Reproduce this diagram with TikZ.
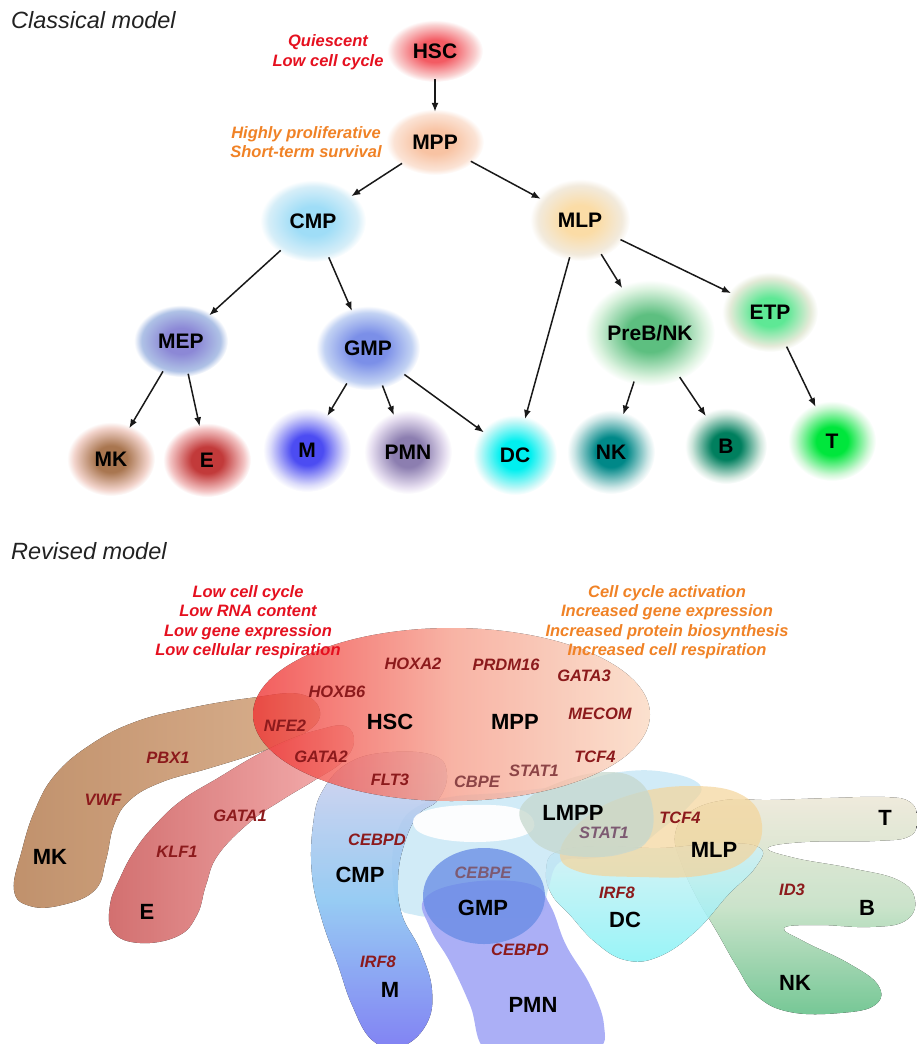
\documentclass[tikz,border=0pt]{standalone}
\usepackage{tikz}
\usepackage{fontspec}
\setmainfont{Liberation Sans}
\usetikzlibrary{arrows.meta,shapes.geometric}
\colorlet{fzin}{white}
\colorlet{fzout}{white}
\pgfdeclareradialshading[fzin,fzout]{fuzzy}{\pgfpoint{0bp}{0bp}}{color(0bp)=(fzin); color(9bp)=(fzin); color(21bp)=(fzout); color(25bp)=(white); color(50bp)=(white)}
\definecolor{txtred}{HTML}{E5101F}
\definecolor{txtorange}{HTML}{F08226}
\definecolor{gene}{HTML}{8C1A1C}
\definecolor{genemid}{HTML}{8C4446}
\definecolor{genel}{HTML}{7D5A72}
\definecolor{titlegray}{HTML}{222222}
\definecolor{mkA}{HTML}{BD8B64}
\definecolor{mkB}{HTML}{D8AC88}
\definecolor{eA}{HTML}{CD6060}
\definecolor{eB}{HTML}{F5A8A8}
\definecolor{tbA}{HTML}{EEE9DA}
\definecolor{tbB}{HTML}{6EC490}
\definecolor{tbM}{HTML}{C8E2C8}
\definecolor{dcA}{HTML}{D2F0F5}
\definecolor{dcB}{HTML}{86F2F6}
\definecolor{band}{HTML}{BEE2F4}
\definecolor{cmpA}{HTML}{D4D0EC}
\definecolor{cmpB}{HTML}{7474F2}
\definecolor{cmpM}{HTML}{8CC6F2}
\definecolor{pmnC}{HTML}{A6ABF6}
\definecolor{gmpC}{HTML}{668BE4}
\definecolor{mlpC}{HTML}{F4D49A}
\definecolor{lmppC}{HTML}{C6D8CE}
\definecolor{elA}{HTML}{EF3434}
\definecolor{elB}{HTML}{FAD9C2}
\definecolor{elM}{HTML}{F6A08E}
\newcommand\cnodefont{\fontsize{21}{24}\selectfont\bfseries}
\newcommand\rnodefont{\fontsize{22}{25}\selectfont\bfseries}
\newcommand\genefont{\fontsize{16.5}{19.5}\selectfont\bfseries\itshape}
\tikzset{
  fz/.style 2 args={/utils/exec={\definecolor{fzin}{HTML}{#1}\definecolor{fzout}{HTML}{#2}}, shading=fuzzy},
  cnode/.style={shape=ellipse, inner sep=0pt, font=\cnodefont, text=black},
  arr/.style={-{Latex[length=9pt,width=7pt]}, line width=1.5pt, draw=black!90, shorten <=-3pt, shorten >=-3pt},
  rlabel/.style={font=\rnodefont, text=black, inner sep=0pt},
  genelab/.style={font=\genefont, text=gene, inner sep=0pt},
  note/.style={font=\genefont, align=center, inner sep=0pt},
  blob/.style={smooth cycle, tension=0.7},
}
\begin{document}
\begin{tikzpicture}[x=1pt,y=-1pt]
\useasboundingbox (0,0) rectangle (917,1044);

% ---------------- Classical model ----------------
\node[anchor=base west, font=\fontsize{23.5}{26}\selectfont\itshape, text=titlegray, inner sep=0pt] (title1) at (11,28) {Classical model};

\node[cnode, fz={F35B63}{F9CFCF}, minimum width=96pt, minimum height=62pt] (hsc) at (435,51) {HSC};
\node[cnode, fz={F8C3A3}{FBE3D5}, minimum width=98pt, minimum height=66pt] (mpp) at (435,142) {MPP};
\node[cnode, fz={9FDDF7}{D6EEF8}, minimum width=106pt, minimum height=82pt] (cmp) at (313,221) {CMP};
\node[cnode, fz={FBDCA6}{F2EADC}, minimum width=100pt, minimum height=82pt] (mlp) at (580,220) {MLP};
\node[cnode, fz={8C88D6}{AFC2E6}, minimum width=94pt, minimum height=72pt] (mep) at (181,341) {MEP};
\node[cnode, fz={7B8FE8}{C2D2F3}, minimum width=104pt, minimum height=84pt] (gmp) at (368,348) {GMP};
\node[cnode, fz={5DBF80}{DDF3E0}, minimum width=130pt, minimum height=106pt] (preb) at (650,333) {PreB/NK};
\node[cnode, fz={5EE895}{E4EAD8}, minimum width=96pt, minimum height=80pt] (etp) at (770,312) {ETP};
\node[cnode, fz={A97650}{F2D3CB}, minimum width=88pt, minimum height=74pt] (mk) at (111,459) {MK};
\node[cnode, fz={C23A3A}{F3C3C3}, minimum width=88pt, minimum height=74pt] (e) at (207,460) {E};
\node[cnode, fz={4C4CF2}{DCDCFA}, minimum width=88pt, minimum height=84pt] (m) at (307,450) {M};
\node[cnode, fz={8C7EB0}{E6DEF0}, minimum width=88pt, minimum height=84pt] (pmn) at (408,452) {PMN};
\node[cnode, fz={00F0F0}{C4F7F7}, minimum width=84pt, minimum height=80pt] (dc) at (515,455) {DC};
\node[cnode, fz={008888}{CCE6E6}, minimum width=88pt, minimum height=84pt] (nk) at (611,452) {NK};
\node[cnode, fz={007F5E}{CFE6DC}, minimum width=82pt, minimum height=76pt] (b) at (726,446) {B};
\node[cnode, fz={00E63C}{CFF7D6}, minimum width=88pt, minimum height=80pt] (t) at (832,441) {T};

\node[note, text=txtred] (q) at (328,52) {Quiescent\\Low cell cycle};
\node[note, text=txtorange] (hp) at (306,142) {Highly proliferative\\Short-term survival};

\draw[arr] (hsc) -- (mpp);
\draw[arr] (mpp) -- (cmp);
\draw[arr] (mpp) -- (mlp);
\draw[arr] (cmp) -- (mep);
\draw[arr] (cmp) -- (gmp);
\draw[arr] (mlp) -- (dc);
\draw[arr] (mlp) -- (preb);
\draw[arr] (mlp) -- (etp);
\draw[arr] (mep) -- (mk);
\draw[arr] (mep) -- (e);
\draw[arr] (gmp) -- (m);
\draw[arr] (gmp) -- (pmn);
\draw[arr] (gmp) -- (dc);
\draw[arr] (preb) -- (nk);
\draw[arr] (preb) -- (b);
\draw[arr] (etp) -- (t);

% ---------------- Revised model ----------------
\node[anchor=base west, font=\fontsize{23.5}{26}\selectfont\itshape, text=titlegray, inner sep=0pt] (title2) at (11,559) {Revised model};

% MK band
\begin{scope}[transparency group, opacity=0.95]
\fill[left color=mkA, right color=mkB]
  plot[blob] coordinates {(300,694) (250,698) (190,708) (135,722) (90,745) (55,775) (35,810) (22,850) (14,890) (30,906) (62,905) (95,890) (106,860) (114,825) (130,800) (162,782) (210,768) (260,752) (305,733) (320,712)};
\end{scope}
% E band
\begin{scope}[transparency group, opacity=0.9]
\fill[left color=eA, right color=eB]
  plot[blob] coordinates {(345,726) (318,730) (288,740) (255,756) (218,778) (182,800) (155,825) (135,850) (120,878) (110,905) (113,932) (140,943) (178,936) (197,915) (206,885) (218,855) (250,822) (282,800) (315,780) (342,762) (354,742)};
\end{scope}
% T / B / NK
\begin{scope}[transparency group, opacity=0.95]
\fill[top color=tbA, bottom color=tbB, middle color=tbM]
  plot[blob] coordinates {(675,835) (690,812) (725,800) (770,800) (830,798) (885,797) (910,802) (917,818) (910,836) (875,841) (805,842) (768,848) (795,858) (850,868) (898,880) (915,900) (905,921) (870,927) (818,925) (784,928) (805,942) (848,963) (878,985) (875,1005) (840,1013) (790,1012) (757,996) (737,967) (717,932) (697,898) (682,865)};
\end{scope}
% DC
\begin{scope}[transparency group, opacity=0.85]
\fill[top color=dcA, bottom color=dcB]
  plot[blob] coordinates {(546,872) (556,852) (600,846) (660,848) (720,843) (760,848) (755,868) (728,895) (695,932) (658,957) (625,960) (595,942) (570,915) (552,895)};
\end{scope}
% light band (LMPP arm)
\fill[band, fill opacity=0.7]
  plot[blob] coordinates {(398,905) (392,865) (398,830) (415,808) (450,797) (510,792) (570,784) (620,772) (665,772) (700,785) (690,805) (660,830) (635,848) (595,858) (560,862) (548,890) (540,915) (500,918) (450,918) (415,915)};
% CMP + M
\begin{scope}[transparency group, opacity=0.9]
\fill[top color=cmpA, bottom color=cmpB, middle color=cmpM]
  plot[blob] coordinates {(392,752) (435,756) (447,775) (438,800) (418,815) (404,845) (398,880) (402,915) (420,950) (432,990) (426,1025) (400,1047) (372,1040) (352,1005) (338,965) (322,920) (312,875) (313,825) (323,790) (350,762)};
\end{scope}
% PMN
\fill[pmnC, fill opacity=0.95]
  plot[blob] coordinates {(425,898) (470,882) (530,884) (550,905) (566,945) (590,985) (604,1025) (596,1050) (545,1056) (488,1052) (470,1005) (450,962) (430,928)};
% GMP
\fill[gmpC, fill opacity=0.75] (484,896) ellipse [x radius=61pt, y radius=48pt];
% white tongue
\fill[white, fill opacity=0.95]
  plot[blob] coordinates {(413,822) (428,810) (470,805) (515,808) (534,822) (522,836) (475,842) (428,836)};
% MLP
\fill[mlpC, fill opacity=0.7]
  plot[blob] coordinates {(560,852) (585,818) (630,795) (690,786) (742,795) (762,825) (748,858) (705,875) (640,877) (580,872)};
% LMPP
\fill[lmppC, fill opacity=0.75]
  plot[blob] coordinates {(522,805) (560,782) (608,772) (640,782) (653,810) (648,840) (625,853) (590,857) (550,851) (527,832)};
% HSC / MPP ellipse
\begin{scope}[transparency group, opacity=0.8]
\fill[left color=elA, right color=elB, middle color=elM]
  (451.5,714.5) ellipse [x radius=198.5pt, y radius=86.5pt];
\end{scope}

% notes
\node[note, text=txtred] (lowtxt) at (248,622) {Low cell cycle\\Low RNA content\\Low gene expression\\Low cellular respiration};
\node[note, text=txtorange] (inctxt) at (667,622) {Cell cycle activation\\Increased gene expression\\Increased protein biosynthesis\\Increased cell respiration};

% cell labels
\node[rlabel] (hsc2) at (390,722) {HSC};
\node[rlabel] (mpp2) at (515,722) {MPP};
\node[rlabel] (lmpp2) at (573,813) {LMPP};
\node[rlabel] (cmp2) at (360,875) {CMP};
\node[rlabel] (gmp2) at (483,908) {GMP};
\node[rlabel] (m2) at (390,990) {M};
\node[rlabel] (pmn2) at (533,1005) {PMN};
\node[rlabel] (dc2) at (625,920) {DC};
\node[rlabel] (mlp2) at (714,850) {MLP};
\node[rlabel] (t2) at (885,818) {T};
\node[rlabel] (b2) at (867,908) {B};
\node[rlabel] (nk2) at (795,983) {NK};
\node[rlabel] (mk2) at (50,857) {MK};
\node[rlabel] (e2) at (147,912) {E};

% genes
\node[genelab] (g1) at (413,664) {HOXA2};
\node[genelab] (g2) at (506,665) {PRDM16};
\node[genelab] (g3) at (584,676) {GATA3};
\node[genelab] (g4) at (337,692) {HOXB6};
\node[genelab] (g5) at (600,714) {MECOM};
\node[genelab] (g6) at (285,726) {NFE2};
\node[genelab] (g7) at (321,757) {GATA2};
\node[genelab] (g8) at (168,758) {PBX1};
\node[genelab] (g9) at (595,757) {TCF4};
\node[genelab, text=genemid] (g10) at (534,771) {STAT1};
\node[genelab] (g11) at (390,780) {FLT3};
\node[genelab, text=genemid] (g12) at (477,782) {CBPE};
\node[genelab] (g13) at (103,800) {VWF};
\node[genelab] (g14) at (240,816) {GATA1};
\node[genelab] (g15) at (177,852) {KLF1};
\node[genelab] (g16) at (377,840) {CEBPD};
\node[genelab, text=genel] (g17) at (483,873) {CEBPE};
\node[genelab] (g18) at (680,818) {TCF4};
\node[genelab, text=genel] (g19) at (604,833) {STAT1};
\node[genelab] (g20) at (617,893) {IRF8};
\node[genelab] (g21) at (792,890) {ID3};
\node[genelab] (g22) at (520,950) {CEBPD};
\node[genelab] (g23) at (378,962) {IRF8};
\end{tikzpicture}
\end{document}
